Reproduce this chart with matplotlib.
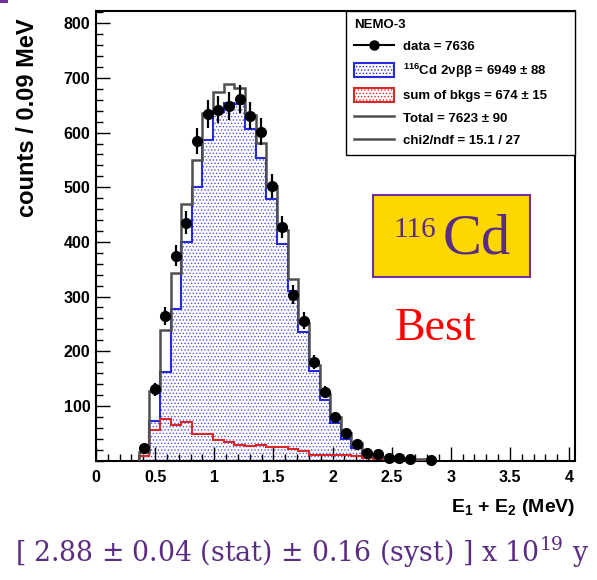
import numpy as np
import matplotlib
matplotlib.use('Agg')
import matplotlib.pyplot as plt
from matplotlib import font_manager
from matplotlib.lines import Line2D
from matplotlib.patches import Patch, Rectangle
from matplotlib.ticker import MultipleLocator

# energy bins in MeV, 0.09 MeV wide, first filled bin starts at 0.36
bin_width = 0.09
first_edge = 0.36

# 116Cd 2vbb MC (blue)
signal = [8, 72, 162, 278, 399, 501, 587, 638, 655, 653, 607, 553, 479, 397,
          311, 235, 164, 110, 69, 40, 23, 8, 4, 4, 3, 2, 1]
# sum of backgrounds (red)
bkgs = [8, 56, 76, 65, 70, 49, 49, 37, 34, 28, 26, 28, 24, 24,
        21, 17, 10, 11, 10, 11, 9, 4, 3, 2, 2, 1, 1]
# data counts per bin (0 = empty bin, not drawn)
data = [23, 130, 264, 375, 435, 585, 634, 642, 648, 661, 631, 602, 502, 427,
        303, 256, 180, 125, 79, 51, 30, 13, 12, 4, 5, 3, 0, 1]

xtick_vals = [0, 0.5, 1, 1.5, 2, 2.5, 3, 3.5, 4]
xtick_labels = ['0', '0.5', '1', '1.5', '2', '2.5', '3', '3.5', '4']
ytick_vals = [100, 200, 300, 400, 500, 600, 700, 800]

legend_title = 'NEMO-3'
legend_labels = ['data = 7636',
                 r'$^{\mathbf{116}}$Cd 2νββ = 6949 ± 88',
                 'sum of bkgs = 674 ± 15',
                 'Total = 7623 ± 90',
                 'chi2/ndf = 15.1 / 27']

blue = '#2828dc'
hatch_blue = '#5050e0'
red = '#dc2828'
gray = '#505050'
purple = '#5a2d82'

names = {f.name for f in font_manager.fontManager.ttflist}
narrow = 'Liberation Sans Narrow' if 'Liberation Sans Narrow' in names else 'Liberation Sans'

plt.rcParams['mathtext.fontset'] = 'custom'
plt.rcParams['mathtext.bf'] = 'Liberation Sans:bold'
plt.rcParams['mathtext.rm'] = 'DejaVu Serif'
plt.rcParams['hatch.linewidth'] = 0.6

fig = plt.figure(figsize=(5.97, 5.80), dpi=100)
ax = fig.add_axes([0.1608, 0.2060, 0.8023, 0.7755])

edges = first_edge + bin_width * np.arange(len(signal) + 1)
sig = np.array(signal)
bkg = np.array(bkgs)
total = sig + bkg

ax.stairs(sig, edges, fill=True, facecolor='none', edgecolor=hatch_blue,
          hatch='.....', lw=0, zorder=1)
ax.stairs(sig, edges, color=blue, lw=1.5, zorder=2)
ax.stairs(bkg, edges, color=red, lw=1.5, zorder=3)
ax.stairs(total, edges, color=gray, lw=1.8, zorder=4)

d = np.array(data, dtype=float)
centers = first_edge + bin_width * (np.arange(len(d)) + 0.5)
m = d > 0
ax.errorbar(centers[m], d[m], yerr=np.sqrt(d[m]), fmt='o', color='black',
            ms=7, elinewidth=1.6, capsize=0, clip_on=False, zorder=6)

ax.set_xlim(0, 4.05)
ax.set_ylim(0, 823)
ax.set_xticks(xtick_vals)
ax.set_xticklabels(xtick_labels)
ax.set_yticks(ytick_vals)
ax.xaxis.set_minor_locator(MultipleLocator(0.1))
ax.yaxis.set_minor_locator(MultipleLocator(20))
ax.tick_params(which='both', direction='in', top=False, right=False, width=1)
ax.tick_params(which='major', length=10)
ax.tick_params(which='minor', length=5)
ax.tick_params(axis='x', pad=7)
ax.tick_params(axis='y', pad=4)
for lab in ax.get_xticklabels() + ax.get_yticklabels():
    lab.set_fontfamily(narrow)
    lab.set_fontweight('bold')
    lab.set_fontsize(11.5)
for s in ax.spines.values():
    s.set_linewidth(1.5)

ax.text(-0.143, 0.983, 'counts / 0.09 MeV', transform=ax.transAxes,
        rotation=90, ha='center', va='top', fontsize=17,
        fontfamily='Liberation Sans', fontweight='bold')
ax.text(1.0, -0.1138, r'E$_{\mathbf{1}}$ + E$_{\mathbf{2}}$ (MeV)',
        transform=ax.transAxes, ha='right', va='baseline', fontsize=14,
        fontfamily='Liberation Sans', fontweight='bold')

handles = [
    Line2D([], [], color='black', lw=1.5, marker='o', ms=6.5),
    Patch(facecolor='white', edgecolor=blue, hatch='.....', lw=1.5),
    Patch(facecolor='white', edgecolor=red, hatch='.....', lw=1.5),
    Line2D([], [], color=gray, lw=1.8),
    Line2D([], [], color=gray, lw=1.8),
]
leg = ax.legend(handles, legend_labels, title=legend_title,
                loc='upper left', bbox_to_anchor=(0.522, 0, 0.478, 1),
                mode='expand', borderaxespad=0, fancybox=False,
                edgecolor='black', framealpha=1,
                prop=dict(family='Liberation Sans', weight='bold', size=9.5),
                title_fontproperties=dict(family='Liberation Sans',
                                          weight='bold', size=9.5),
                alignment='left', handlelength=3.0, handleheight=1.25,
                handletextpad=0.75, labelspacing=0.62, borderpad=0.6)
leg.get_frame().set_linewidth(1.0)
leg.set_zorder(10)

# slide annotations
W, H = 597.0, 580.0
fig.add_artist(Rectangle((373 / W, 1 - 277 / H), 157 / W, 82 / H,
                         transform=fig.transFigure, facecolor='#ffd700',
                         edgecolor='#7030a0', lw=1.5))
fig.text(393 / W, 1 - 237 / H, '116', color=purple, fontsize=21,
         fontfamily='Liberation Serif', ha='left', va='baseline')
fig.text(443 / W, 1 - 254 / H, 'Cd', color=purple, fontsize=42,
         fontfamily='Liberation Serif', ha='left', va='baseline')
fig.text(395 / W, 1 - 340 / H, 'Best', color='#ff0000', fontsize=33,
         fontfamily='Liberation Serif', ha='left', va='baseline')
fig.text(15 / W, 1 - 562 / H,
         r'[ 2.88 ± 0.04 (stat) ± 0.16 (syst) ] x 10$^{\mathrm{19}}$ y',
         color=purple, fontsize=19.3, fontfamily='DejaVu Serif',
         ha='left', va='baseline')
fig.add_artist(Rectangle((0, 1 - 3 / H), 8 / W, 3 / H,
                         transform=fig.transFigure, facecolor='#7030a0',
                         edgecolor='none'))

fig.savefig('out.png', dpi=100)
